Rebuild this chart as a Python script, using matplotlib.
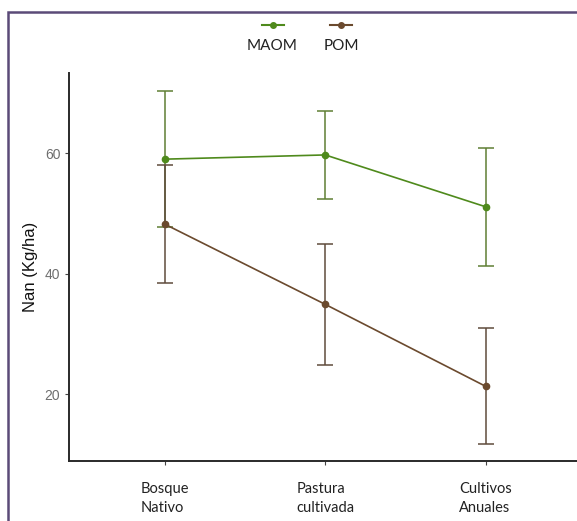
import matplotlib
matplotlib.use("Agg")
import matplotlib.pyplot as plt
from matplotlib.lines import Line2D
from matplotlib.patches import Rectangle

categories = ["Bosque\nNativo", "Pastura\ncultivada", "Cultivos\nAnuales"]
series_names = ["MAOM", "POM"]
maom_mean = [59.0, 59.7, 51.1]
maom_err = [11.3, 7.3, 9.8]
pom_mean = [48.2, 34.9, 21.3]
pom_err = [9.8, 10.1, 9.6]
yticks = [20, 40, 60]

W, H = 577, 521
fig = plt.figure(figsize=(W / 100, H / 100), dpi=100)
fig.patch.set_facecolor("white")

left_px, right_px = 68.7, 581.8
bottom_px, top_px = 461, 73
ax = fig.add_axes([left_px / W, (H - bottom_px) / H,
                   (right_px - left_px) / W, (bottom_px - top_px) / H])

green = "#4f8a1c"
brown = "#6b4a2e"
green_e = "#5f7f34"
brown_e = "#5f4b3c"

x = list(range(1, len(categories) + 1))
ax.errorbar(x, maom_mean, yerr=maom_err, color=green, ecolor=green_e,
            elinewidth=1.1, capsize=6, capthick=1.1, lw=1.2,
            marker="o", ms=4.5, zorder=3)
ax.errorbar(x, pom_mean, yerr=pom_err, color=brown, ecolor=brown_e,
            elinewidth=1.1, capsize=6, capthick=1.1, lw=1.2,
            marker="o", ms=4.5, zorder=3)

ax.set_xlim(0.4, 3.6)
ax.set_ylim(8.9, 73.3)
ax.set_yticks(yticks)
ax.set_yticklabels([str(v) for v in yticks], color="#6e6e6e",
                   fontsize=10, family="Liberation Sans")
ax.set_xticks(x)
ax.set_xticklabels(categories, fontsize=10.5, family="Lato",
                   multialignment="left", linespacing=1.5, color="#222222")
ax.tick_params(axis="both", length=3, width=0.8, color="#444444")
ax.tick_params(axis="x", pad=12)
ax.tick_params(axis="y", pad=3)
for s in ["top", "right"]:
    ax.spines[s].set_visible(False)
for s in ["left", "bottom"]:
    ax.spines[s].set_linewidth(1.4)
    ax.spines[s].set_color("#2a2a2a")
ax.set_ylabel("Nan (Kg/ha)", fontsize=12, family="Liberation Sans",
              color="#111111", labelpad=5)

def fx(px):
    return px / W

def fy(py):
    return 1 - py / H

leg_items = [(series_names[0], green, 272.5), (series_names[1], brown, 341)]
for name, col, cx in leg_items:
    fig.add_artist(Line2D([fx(cx - 11), fx(cx + 11)], [fy(25), fy(25)],
                          color=col, lw=1.5, transform=fig.transFigure))
    fig.add_artist(Line2D([fx(cx)], [fy(25)], color=col, marker="o", ms=4,
                          transform=fig.transFigure))
    fig.text(fx(cx), fy(46.5), name, ha="center", va="center",
             fontsize=11, family="Lato", color="#222222")

fig.add_artist(Rectangle((fx(8), fy(600)), 2, (600 - 12) / H,
                         transform=fig.transFigure, fill=False,
                         edgecolor="#5b4a78", lw=1.8))

fig.savefig("out.png", dpi=100, facecolor="white")
